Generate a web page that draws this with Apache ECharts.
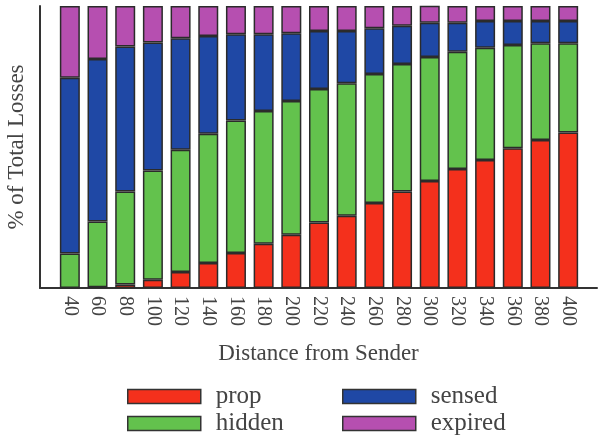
<!DOCTYPE html>
<html>
<head>
<meta charset="utf-8">
<script src="https://cdn.jsdelivr.net/npm/echarts@6/dist/echarts.min.js"></script>
<style>
  html, body { margin: 0; padding: 0; background: #fff; }
  #main { width: 601px; height: 437px; }
</style>
</head>
<body>
<div id="main"></div>
<script>
// distances along the x axis
const distances = ['40', '60', '80', '100', '120', '140', '160', '180', '200', '220', '240', '260', '280', '300', '320', '340', '360', '380', '400'];
// share of losses (%) per cause
const prop    = [0, 0.3, 1.2, 2.9, 5.7, 8.9, 12.4, 15.7, 18.9, 23.2, 25.6, 30.1, 34.2, 37.9, 42.2, 45.4, 49.6, 52.5, 55.1];
const hidden  = [12.2, 23.3, 33.0, 38.8, 43.3, 45.8, 47.0, 47.1, 47.4, 47.4, 47.0, 45.8, 45.2, 44.0, 41.6, 39.8, 36.6, 34.3, 31.7];
const sensed  = [62.4, 57.6, 51.4, 45.4, 39.6, 34.7, 30.6, 27.2, 24.0, 20.5, 18.5, 16.2, 13.6, 12.2, 10.3, 9.5, 8.5, 7.9, 7.9];
const expired = [25.4, 18.8, 14.4, 12.9, 11.4, 10.6, 10.0, 10.0, 9.7, 8.9, 8.9, 7.9, 7.0, 6.0, 5.9, 5.3, 5.3, 5.3, 5.3];

const colors = {
    prop: '#f4301c',
    hidden: '#63c24d',
    sensed: '#1f48a5',
    expired: '#b64fb0'
};

const chart = echarts.init(document.querySelector('#main'));
const font = 'Liberation Serif';
const textColor = '#444';

function makeSeries(name, values) {
    return {
        name: name,
        type: 'bar',
        stack: 'total',
        barWidth: 20,
        data: values,
        itemStyle: {
            color: colors[name],
            borderColor: '#2b2b2b',
            borderWidth: 1.5
        }
    };
}

function makeLegend(name, left, top) {
    return {
        data: [name],
        left: left,
        top: top,
        icon: 'rect',
        itemWidth: 73,
        itemHeight: 14,
        padding: 0,
        textStyle: { fontFamily: font, fontSize: 25, color: textColor, padding: [0, 0, 0, 10] },
        itemStyle: { borderColor: '#333', borderWidth: 1.5 }
    };
}

let option = {
    animation: false,
    grid: [
        // bars
        { left: 56, right: 19, top: 6, bottom: 149, outerBoundsMode: 'none' },
        // frame lines
        { left: 40, right: 4, top: 6, bottom: 149, outerBoundsMode: 'none' }
    ],
    xAxis: [
        {
            type: 'category',
            gridIndex: 0,
            data: distances,
            axisLine: { show: false },
            axisTick: { show: false },
            axisLabel: {
                rotate: -90,
                margin: 8,
                fontFamily: font,
                fontSize: 20,
                color: textColor
            }
        },
        {
            type: 'value',
            gridIndex: 1,
            name: 'Distance from Sender',
            nameLocation: 'middle',
            nameGap: 54,
            nameTextStyle: { fontFamily: font, fontSize: 23, color: textColor },
            axisLine: { show: true, lineStyle: { color: '#333', width: 2 } },
            axisTick: { show: false },
            axisLabel: { show: false },
            splitLine: { show: false }
        }
    ],
    yAxis: [
        {
            type: 'value',
            gridIndex: 0,
            min: 0,
            max: 100,
            show: false
        },
        {
            type: 'value',
            gridIndex: 1,
            name: '% of Total Losses',
            nameLocation: 'middle',
            nameGap: 12,
            nameTextStyle: { fontFamily: font, fontSize: 23, color: textColor },
            axisLine: { show: true, lineStyle: { color: '#333', width: 2 } },
            axisTick: { show: false },
            axisLabel: { show: false },
            splitLine: { show: false }
        }
    ],
    legend: [
        makeLegend('prop', 127, 384),
        makeLegend('hidden', 127, 411),
        makeLegend('sensed', 342, 384),
        makeLegend('expired', 342, 411)
    ],
    series: [
        makeSeries('prop', prop),
        makeSeries('hidden', hidden),
        makeSeries('sensed', sensed),
        makeSeries('expired', expired)
    ]
};
chart.setOption(option);
</script>
</body>
</html>
